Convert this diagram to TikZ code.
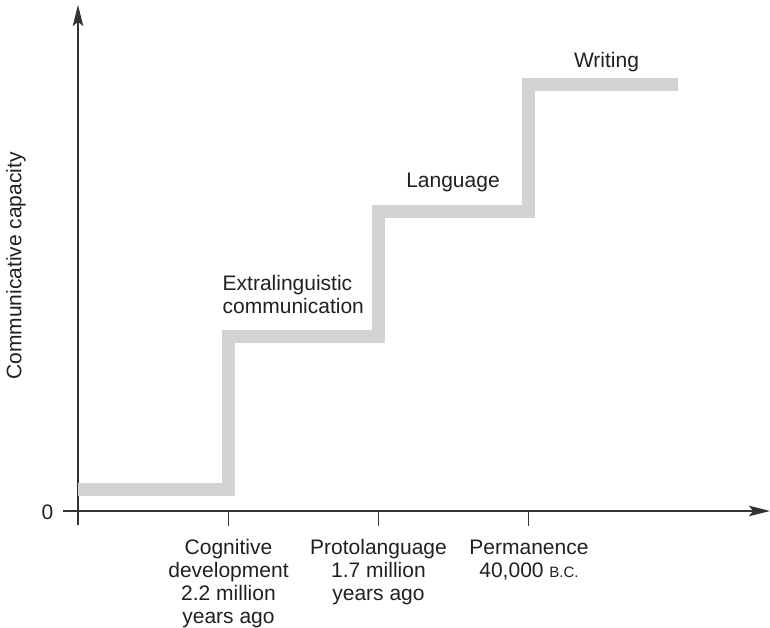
\documentclass[tikz,border=0pt]{standalone}
\usepackage{fontspec}
\setmainfont{Liberation Sans}
\usetikzlibrary{arrows.meta}
\definecolor{axisgray}{HTML}{333333}
\definecolor{stepgray}{HTML}{D1D3D4}
\definecolor{inkgray}{HTML}{231F20}
\begin{document}
\begin{tikzpicture}[x=1pt,y=-1pt,
  axis/.style={draw=axisgray,line width=1.4pt,
    -{Stealth[length=21pt,width=10.5pt,inset=4pt]}},
  tickline/.style={draw=axisgray,line width=1.2pt},
  stairs/.style={draw=stepgray,line width=13pt,miter limit=10},
  lbl/.style={font=\fontsize{21}{23}\selectfont,text=inkgray,inner sep=0pt},
  timelbl/.style={lbl,align=center,anchor=north}]
\useasboundingbox (0,0) rectangle (770,628);

% axes
\coordinate (origin) at (78,511);
\coordinate (ybot) at (78,525);
\coordinate (ytop) at (78,5);
\coordinate (xleft) at (63,511);
\coordinate (xright) at (770,511);
\draw[axis] (ybot) -- (ytop);
\draw[axis] (xleft) -- (xright);

% ticks on the time axis
\coordinate (t1) at (228.5,511);
\coordinate (t2) at (378.5,511);
\coordinate (t3) at (528.5,511);
\foreach \t in {t1,t2,t3}
  \draw[tickline] (\t) -- ++(0,15);

% staircase of communicative capacity
\coordinate (s0) at (78,489.5);
\coordinate (s1) at (228.5,489.5);
\coordinate (s2) at (228.5,336);
\coordinate (s3) at (378.5,336);
\coordinate (s4) at (378.5,212);
\coordinate (s5) at (528.5,212);
\coordinate (s6) at (528.5,85);
\coordinate (s7) at (678,85);
\draw[stairs] (s0) -- (s1) -- (s2) -- (s3) -- (s4) -- (s5) -- (s6) -- (s7);

% axis labels
\node[lbl] (zero) at (47.5,512.5) {0};
\node[lbl,rotate=90] (ylabel) at (16,266) {Communicative capacity};

% stage labels (base anchor sits on the last line)
\node[lbl,anchor=base west,align=left] (extra) at (222.5,313)
  {Extralinguistic\\communication};
\node[lbl,anchor=base] (lang) at (453,188) {Language};
\node[lbl,anchor=base] (writ) at (606.5,67.5) {Writing};

% time labels
\node[timelbl] (cog) at (228.5,539.5)
  {Cognitive\\development\\2.2 million\\years ago};
\node[timelbl] (proto) at (378.5,539.5)
  {Protolanguage\\1.7 million\\years ago};
\node[timelbl] (perm) at (529,539.5)
  {Permanence\\40,000 {\fontsize{15}{15}\selectfont B.C.}};
\end{tikzpicture}
\end{document}
